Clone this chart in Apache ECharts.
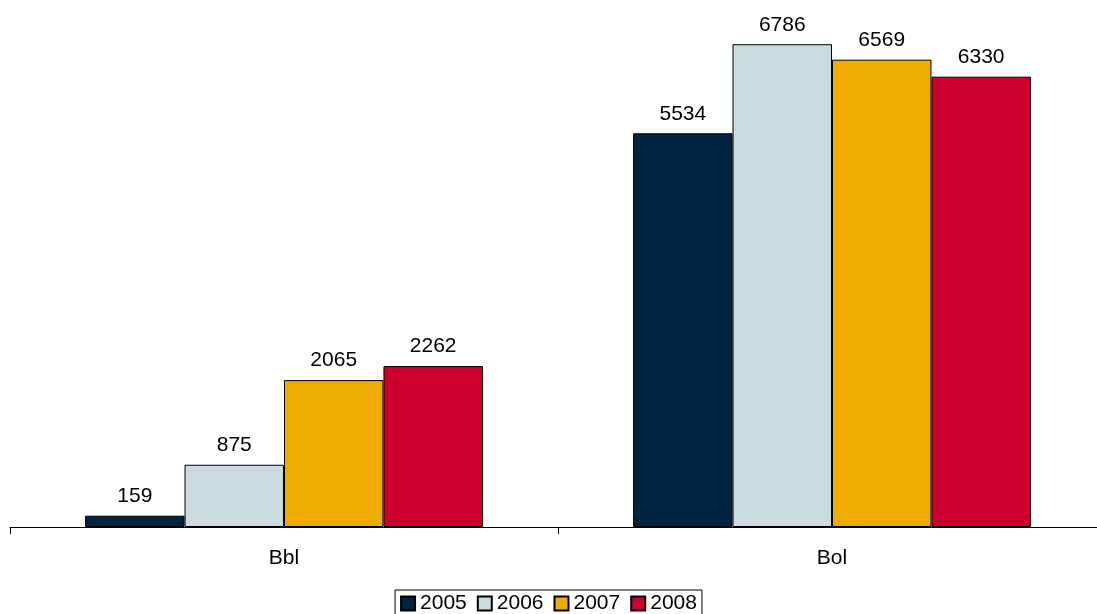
<!DOCTYPE html>
<html><head><meta charset="utf-8">
<script src="https://cdn.jsdelivr.net/npm/echarts@6/dist/echarts.min.js"></script>
<style>html,body{margin:0;padding:0;background:#fff}#c{width:1097px;height:614px}</style>
</head><body><div id="c"></div>
<script>
const categories = ['Bbl', 'Bol'];
const years = ['2005', '2006', '2007', '2008'];
const v2005 = [159, 5534];
const v2006 = [875, 6786];
const v2007 = [2065, 6569];
const v2008 = [2262, 6330];
const colors = ['#00233F', '#CCDBE0', '#EFAB00', '#CE002F'];
const values = [v2005, v2006, v2007, v2008];
const chart = echarts.init(document.getElementById('c'));
chart.setOption({
  animation: false,
  grid: { left: 10, width: 1096, top: 29, height: 498, outerBoundsMode: 'none', containLabel: false },
  legend: {
    bottom: -1, left: 'center',
    itemWidth: 14, itemHeight: 14, itemGap: 10,
    borderColor: '#000', borderWidth: 1, padding: [3, 5, 1, 5],
    textStyle: { fontFamily: 'Liberation Sans', fontSize: 21, color: '#000' },
    data: years.map(y => ({ name: y, icon: 'rect' }))
  },
  xAxis: {
    type: 'category', data: categories,
    axisLine: { lineStyle: { color: '#000', width: 1 } },
    axisTick: { show: true, length: 7, lineStyle: { color: '#000', width: 1 } },
    axisLabel: { fontFamily: 'Liberation Sans', fontSize: 21, color: '#000', margin: 21 }
  },
  yAxis: { type: 'value', min: 0, max: 7000, show: false, splitLine: { show: false } },
  series: years.map((y, i) => ({
    name: y, type: 'bar', data: values[i],
    barGap: '0%', barCategoryGap: '27.4%',
    itemStyle: { color: colors[i], borderColor: '#000', borderWidth: 1 },
    label: { show: true, position: 'top', distance: 9, fontFamily: 'Liberation Sans', fontSize: 21, color: '#000' }
  }))
});
</script></body></html>
